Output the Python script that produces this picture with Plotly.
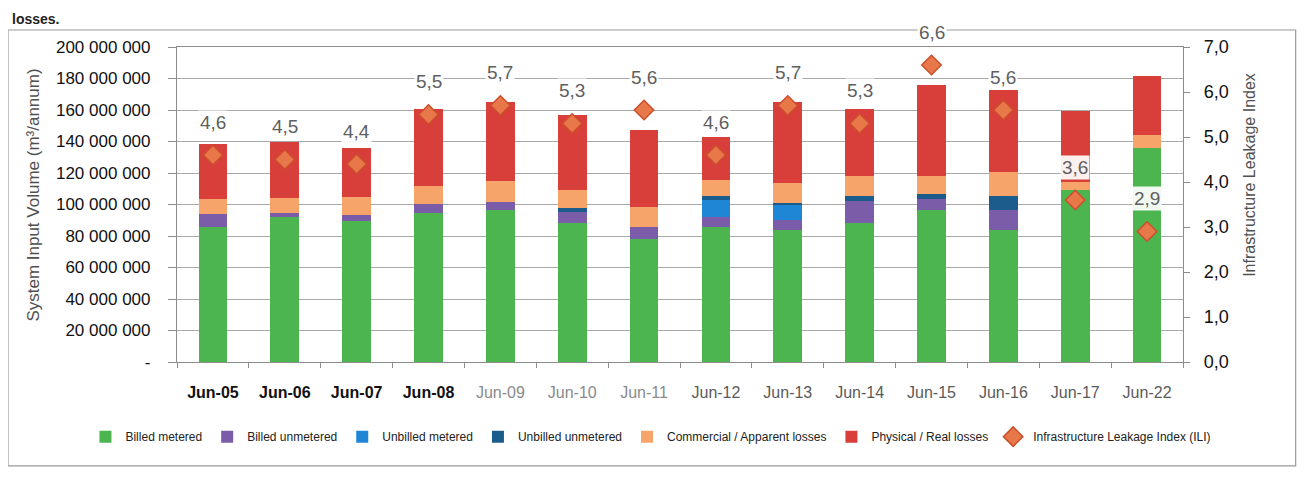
import plotly.graph_objects as go

# ---- data (in m3/annum) ----
categories = ["Jun-05", "Jun-06", "Jun-07", "Jun-08", "Jun-09", "Jun-10", "Jun-11",
              "Jun-12", "Jun-13", "Jun-14", "Jun-15", "Jun-16", "Jun-17", "Jun-22"]
billed_metered = [85.7e6, 92.2e6, 89.5e6, 94.9e6, 96.4e6, 88.0e6, 78.3e6,
                  86.0e6, 84.0e6, 88.5e6, 96.8e6, 83.9e6, 109.2e6, 135.7e6]
billed_unmetered = [8.0e6, 2.7e6, 3.6e6, 5.5e6, 4.9e6, 7.5e6, 7.4e6,
                    6.3e6, 6.4e6, 13.8e6, 6.4e6, 12.9e6, 0.0, 0.0]
unbilled_metered = [0, 0, 0, 0, 0, 0, 0,
                    10.7e6, 9.2e6, 0, 0, 0, 0, 0]
unbilled_unmetered = [0, 0, 0, 0, 0, 2.0e6, 0,
                      2.1e6, 1.5e6, 2.8e6, 3.2e6, 8.6e6, 0, 0]
commercial_losses = [9.5e6, 9.3e6, 11.7e6, 11.5e6, 13.8e6, 12.0e6, 12.8e6,
                     10.6e6, 12.7e6, 13.2e6, 11.7e6, 15.0e6, 5.4e6, 8.6e6]
physical_losses = [35.1e6, 35.8e6, 31.0e6, 49.0e6, 50.0e6, 47.5e6, 48.9e6,
                   27.3e6, 51.1e6, 42.1e6, 57.8e6, 52.0e6, 44.5e6, 37.6e6]
ili = [4.6, 4.5, 4.4, 5.5, 5.7, 5.3, 5.6, 4.6, 5.7, 5.3, 6.6, 5.6, 3.6, 2.9]

left_ticks = [0, 20e6, 40e6, 60e6, 80e6, 100e6, 120e6, 140e6, 160e6, 180e6, 200e6]
right_ticks = [0, 1, 2, 3, 4, 5, 6, 7]
xlabel_colors = ["#111111", "#111111", "#111111", "#111111", "#8a8a8a", "#8a8a8a", "#8a8a8a",
                 "#5a5a5a", "#5a5a5a", "#5a5a5a", "#5a5a5a", "#5a5a5a", "#5a5a5a", "#5a5a5a"]
xlabel_bold = [True, True, True, True] + [False] * 10

FONT = "Liberation Sans, Arial, sans-serif"

series = [
    ("Billed metered", billed_metered, "#4DB54F"),
    ("Billed unmetered", billed_unmetered, "#7A5CA8"),
    ("Unbilled metered", unbilled_metered, "#1F86D6"),
    ("Unbilled unmetered", unbilled_unmetered, "#1C5C8C"),
    ("Commercial / Apparent losses", commercial_losses, "#F7A46A"),
    ("Physical / Real losses", physical_losses, "#D83E3A"),
]

fig = go.Figure()
for name, vals, col in series:
    fig.add_trace(go.Bar(x=categories, y=vals, name=name, marker_color=col,
                         marker_line_width=0, yaxis="y"))

fig.add_trace(go.Scatter(x=categories, y=ili, name="Infrastructure Leakage Index (ILI)",
                         mode="markers", yaxis="y2",
                         marker=dict(symbol="diamond", size=15, color="#E8784A",
                                     line=dict(color="#CC4E2C", width=1.5))))

# ILI value labels
for c, v in zip(categories, ili):
    fig.add_annotation(x=c, y=v, xref="x", yref="y2", yshift=33,
                       text=f"{v:.1f}".replace(".", ","), showarrow=False,
                       font=dict(family=FONT, size=19, color="#5f5f5f"),
                       bgcolor="rgba(255,255,255,0.92)", borderpad=1)

def fmt_left(v):
    return "-" if v == 0 else f"{int(v):,}".replace(",", " ")

ticktext_x = []
for lab, c, b in zip(categories, xlabel_colors, xlabel_bold):
    t = f"<b>{lab}</b>" if b else lab
    ticktext_x.append(f"<span style='color:{c}'>{t}</span>")

fig.update_layout(
    width=1305, height=482,
    margin=dict(l=169, r=130, t=39, b=128),
    paper_bgcolor="white", plot_bgcolor="white",
    barmode="stack", bargap=0.6,
    separators=", ",
    font=dict(family=FONT, color="#222222"),
    showlegend=True,
    legend=dict(orientation="h", x=-0.091, y=-0.237, xanchor="left", yanchor="middle",
                font=dict(family=FONT, size=12, color="#222222"),
                itemwidth=30, traceorder="normal", bgcolor="rgba(0,0,0,0)"),
    xaxis=dict(tickmode="array", tickvals=categories, ticktext=ticktext_x,
               range=[-0.5, len(categories) - 0.5],
               tickfont=dict(family=FONT, size=16), tickangle=0,
               showline=True, linecolor="#8c8c8c", linewidth=1.2, mirror=True,
               ticks="outside", tickson="boundaries", ticklen=5, tickcolor="#8c8c8c",
               ticklabelstandoff=16, showgrid=False),
    yaxis=dict(range=[0, 200e6], tickmode="array", tickvals=left_ticks,
               ticktext=[fmt_left(v) for v in left_ticks],
               tickfont=dict(family=FONT, size=17, color="#111111"),
               showline=True, linecolor="#8c8c8c", linewidth=1.2,
               ticks="outside", ticklen=8, tickcolor="#8c8c8c", ticklabelstandoff=14,
               showgrid=True, gridcolor="#a8a8a8", gridwidth=1, zeroline=False),
    yaxis2=dict(range=[0, 7], overlaying="y", side="right", tickmode="array",
                tickvals=right_ticks, tickformat=".1f",
                tickfont=dict(family=FONT, size=18, color="#111111"),
                showline=True, linecolor="#8c8c8c", linewidth=1.2,
                ticks="outside", ticklen=6, tickcolor="#8c8c8c", ticklabelstandoff=10,
                showgrid=False, zeroline=False),
)

# axis titles
fig.add_annotation(text="System Input Volume (m³/annum)", xref="paper", yref="paper",
                   x=-0.155, y=0.53, textangle=-90, showarrow=False,
                   font=dict(family=FONT, size=17, color="#505050"))
fig.add_annotation(text="Infrastructure Leakage Index", xref="paper", yref="paper",
                   x=1.077, y=0.594, textangle=-90, showarrow=False,
                   font=dict(family=FONT, size=16, color="#505050"))

# document text just above the chart
fig.add_annotation(text="<b>losses.</b>", xref="paper", yref="paper",
                   x=-0.166, y=1.12, xanchor="left", yanchor="top", showarrow=False,
                   font=dict(family=FONT, size=14, color="#222222"))

# outer chart frame
fig.add_shape(type="rect", xref="paper", yref="paper",
              x0=-0.168, x1=1.112, y0=-0.330, y1=1.054,
              line=dict(color="#9a9a9a", width=1.2), fillcolor="rgba(0,0,0,0)", layer="below")

fig.write_html("out.html")
